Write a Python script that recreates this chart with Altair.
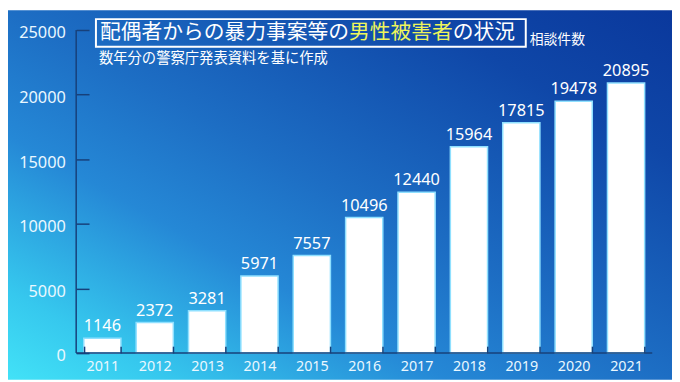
import altair as alt
import pandas as pd

years = ["2011", "2012", "2013", "2014", "2015", "2016", "2017", "2018", "2019", "2020", "2021"]
counts = [1146, 2372, 3281, 5971, 7557, 10496, 12440, 15964, 17815, 19478, 20895]
y_ticks = [0, 5000, 10000, 15000, 20000, 25000]

title_white1 = "配偶者からの暴力事案等の"
title_yellow = "男性被害者"
title_white2 = "の状況"
unit_label = "相談件数"
subtitle = "数年分の警察庁発表資料を基に作成"

df = pd.DataFrame({"year": years, "count": counts})

W, H = 583, 327
PAD = {"left": 69, "top": 20, "right": 20, "bottom": 27}
AXIS_COLOR = "#17407a"
JP = "Noto Sans CJK JP"
NUM = "Noto Sans"

x_enc = alt.X(
    "year:N",
    sort=years,
    scale=alt.Scale(paddingInner=0.29, paddingOuter=0.145),
    axis=alt.Axis(
        title=None, domain=False, tickBand="extent", tickSize=7, offset=-7,
        tickColor=AXIS_COLOR, tickWidth=1.5, labelColor="#eaf8ff", labelFont=NUM,
        labelFontSize=14.5, labelPadding=7, labelAngle=0, zindex=1,
    ),
)
y_enc = alt.Y(
    "count:Q",
    scale=alt.Scale(domain=[0, 25000], nice=False),
    axis=alt.Axis(
        title=None, domain=False, values=y_ticks, grid=False, format="d",
        tickSize=13, offset=-13,
        tickColor=AXIS_COLOR, tickWidth=1.5, labelColor="#eaf8ff", labelFont=NUM,
        labelFontSize=16.5, labelPadding=11, labelOffset=3, zindex=1,
    ),
)

gradient = alt.LinearGradient(
    gradient="linear",
    stops=[
        alt.GradientStop(color="#42e2f7", offset=0),
        alt.GradientStop(color="#36c8ee", offset=0.12),
        alt.GradientStop(color="#2588d6", offset=0.33),
        alt.GradientStop(color="#1d6ec4", offset=0.5),
        alt.GradientStop(color="#0f47a8", offset=0.8),
        alt.GradientStop(color="#0a389c", offset=1),
    ],
    x1=0, y1=1, x2=1, y2=0,
)

one = pd.DataFrame({"k": [0]})

background = alt.Chart(one).mark_rect(color=gradient, clip=False).encode(
    x=alt.value(-PAD["left"]), x2=alt.value(W + PAD["right"]),
    y=alt.value(-PAD["top"]), y2=alt.value(H + PAD["bottom"]),
)

bars = alt.Chart(df).mark_bar(color="white", stroke="#8fe0ff", strokeWidth=1.5).encode(
    x=x_enc, y=y_enc
)

labels = alt.Chart(df).mark_text(
    color="white", font=NUM, fontSize=16.5, baseline="alphabetic", dy=-7
).encode(x=alt.X("year:N", sort=years), y="count:Q", text=alt.Text("count:Q", format="d"))

x_domain = alt.Chart(one).mark_rule(color=AXIS_COLOR, strokeWidth=1.5).encode(
    y=alt.Y(datum=0), x=alt.value(0), x2=alt.value(W)
)
y_domain = alt.Chart(one).mark_rule(color=AXIS_COLOR, strokeWidth=1.5).encode(
    x=alt.value(0), y=alt.Y(datum=0), y2=alt.Y2(datum=25000)
)

FS = 21
tx0 = 24
box = alt.Chart(one).mark_rect(fill="transparent", stroke="white", strokeWidth=2).encode(
    x=alt.value(20), x2=alt.value(455), y=alt.value(-11), y2=alt.value(17)
)
t1 = alt.Chart(one).mark_text(
    text=title_white1, color="white", font=JP, fontSize=FS, align="left", baseline="middle"
).encode(x=alt.value(tx0), y=alt.value(3))
t2 = alt.Chart(one).mark_text(
    text=title_yellow, color="#eef55a", font=JP, fontSize=FS, align="left", baseline="middle"
).encode(x=alt.value(tx0 + FS * len(title_white1)), y=alt.value(3))
t3 = alt.Chart(one).mark_text(
    text=title_white2, color="white", font=JP, fontSize=FS, align="left", baseline="middle"
).encode(x=alt.value(tx0 + FS * (len(title_white1) + len(title_yellow))), y=alt.value(3))
unit = alt.Chart(one).mark_text(
    text=unit_label, color="white", font=JP, fontSize=14, align="left", baseline="middle"
).encode(x=alt.value(459), y=alt.value(10.5))
sub = alt.Chart(one).mark_text(
    text=subtitle, color="white", font=JP, fontSize=14.5, align="left", baseline="middle"
).encode(x=alt.value(23), y=alt.value(29))

chart = alt.layer(
    background, bars, labels, x_domain, y_domain, box, t1, t2, t3, unit, sub
).properties(
    width=W, height=H,
    autosize=alt.AutoSizeParams(type="none"),
    padding=PAD,
).configure_view(stroke=None)

chart.save("out.html", embed_options={"renderer": "svg", "actions": False})
